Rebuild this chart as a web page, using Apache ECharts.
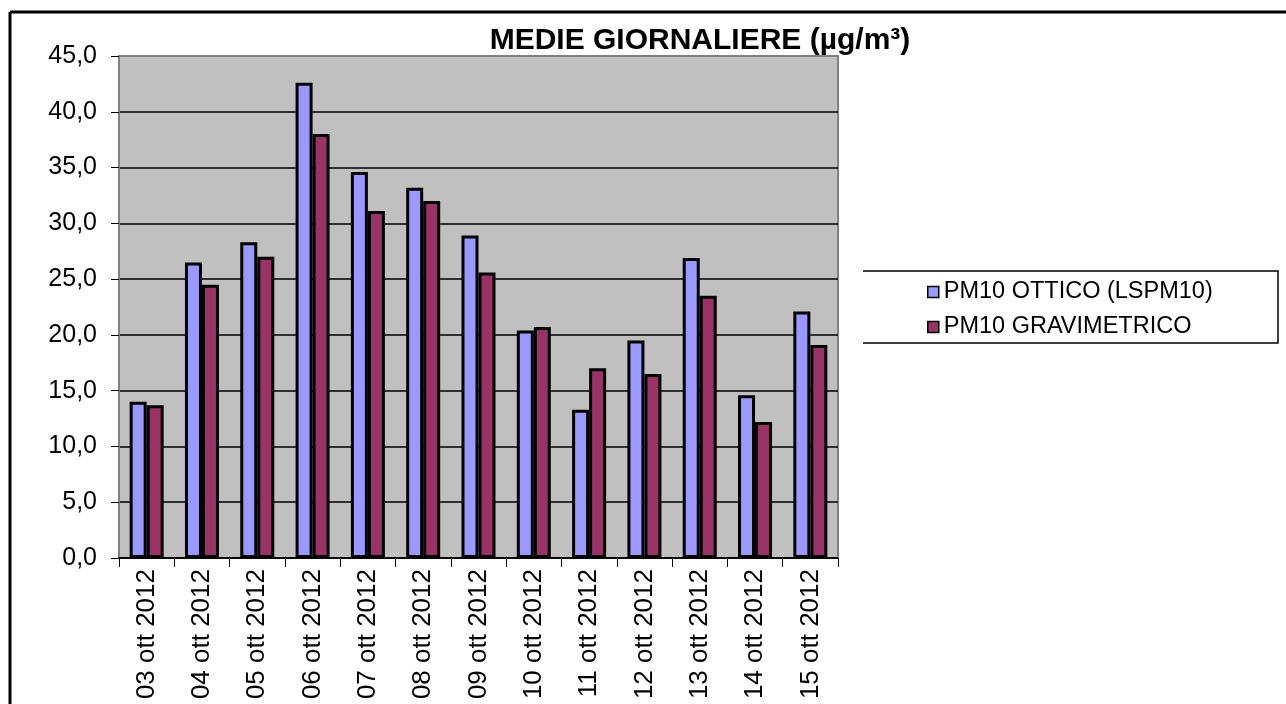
<html>
  <head>
    <script src="https://cdn.jsdelivr.net/npm/echarts@6.0.0/dist/echarts.min.js"></script>
    <title>Medie giornaliere PM10</title>
  </head>
  <body style="margin:0; background-color:#ffffff;">
    <div id="chart" style="width:1286px; height:704px;"></div>
    <script>
      const days = ['03 ott 2012', '04 ott 2012', '05 ott 2012', '06 ott 2012', '07 ott 2012', '08 ott 2012', '09 ott 2012',
                    '10 ott 2012', '11 ott 2012', '12 ott 2012', '13 ott 2012', '14 ott 2012', '15 ott 2012'];
      const ottico = [14.0, 26.5, 28.3, 42.6, 34.6, 33.2, 28.9, 20.4, 13.3, 19.5, 26.9, 14.6, 22.1];
      const gravimetrico = [13.7, 24.5, 27.0, 38.0, 31.1, 32.0, 25.6, 20.7, 17.0, 16.5, 23.5, 12.2, 19.1];
      const seriesNames = ['PM10 OTTICO (LSPM10)', 'PM10 GRAVIMETRICO'];

      const font = '"Liberation Sans", Arial, sans-serif';
      // split lines: black, except the top one which is the gray plot border
      const splitColors = ['#000', '#000', '#000', '#000', '#000', '#000', '#000', '#000', '#000', '#808080'];

      const chart = echarts.init(document.getElementById('chart'));

      const option = {
        backgroundColor: '#ffffff',
        animation: false,
        title: {
          text: 'MEDIE GIORNALIERE (µg/m³)',
          left: 700,
          top: 26,
          padding: 0,
          textAlign: 'center',
          textStyle: { fontFamily: font, fontSize: 30, fontWeight: 'bold', color: '#000' }
        },
        legend: {
          orient: 'vertical',
          left: 927,
          top: 280,
          padding: 0,
          itemWidth: 11,
          itemHeight: 11,
          itemGap: 11,
          icon: 'rect',
          itemStyle: { borderColor: '#000', borderWidth: 1.5 },
          textStyle: { fontFamily: font, fontSize: 23.5, color: '#000' },
          data: seriesNames
        },
        grid: {
          left: 119,
          right: 448,
          top: 56,
          bottom: 146,
          show: true,
          backgroundColor: '#c0c0c0',
          borderColor: '#808080',
          borderWidth: 2
        },
        xAxis: {
          type: 'category',
          data: days,
          axisLine: { lineStyle: { color: '#000', width: 1.5 } },
          axisTick: { show: true, length: 9, lineStyle: { color: '#000', width: 1 } },
          axisLabel: {
            rotate: 90,
            margin: 11,
            fontFamily: font,
            fontSize: 26,
            color: '#000'
          }
        },
        yAxis: {
          type: 'value',
          min: 0,
          max: 45,
          interval: 5,
          axisLine: { show: true, lineStyle: { color: '#808080', width: 2 } },
          axisTick: { show: true, length: 8, lineStyle: { color: '#000', width: 1 } },
          axisLabel: {
            margin: 22,
            fontFamily: font,
            fontSize: 25,
            color: '#000',
            formatter: v => v.toFixed(1).replace('.', ',')
          },
          splitLine: { show: true, lineStyle: { color: splitColors, width: 1.5 } }
        },
        series: [
          {
            name: seriesNames[0],
            type: 'bar',
            data: ottico,
            barWidth: 17,
            barGap: '0%',
            itemStyle: { color: '#9999ff', borderColor: '#000', borderWidth: 3 }
          },
          {
            name: seriesNames[1],
            type: 'bar',
            data: gravimetrico,
            barWidth: 17,
            barGap: '0%',
            itemStyle: { color: '#993366', borderColor: '#000', borderWidth: 3 }
          }
        ],
        graphic: [
          // outer chart frame (cut by the picture on right and bottom)
          { type: 'line', shape: { x1: 10, y1: 12, x2: 1290, y2: 12 }, style: { stroke: '#000', lineWidth: 3 } },
          { type: 'line', shape: { x1: 10, y1: 12, x2: 10, y2: 710 }, style: { stroke: '#000', lineWidth: 3 } },
          // legend box (open on the left)
          { type: 'polyline', shape: { points: [[863, 271], [1278, 271], [1278, 343], [863, 343]] },
            style: { stroke: '#000', lineWidth: 1.5, fill: null } }
        ]
      };

      chart.setOption(option);
    </script>
  </body>
</html>
